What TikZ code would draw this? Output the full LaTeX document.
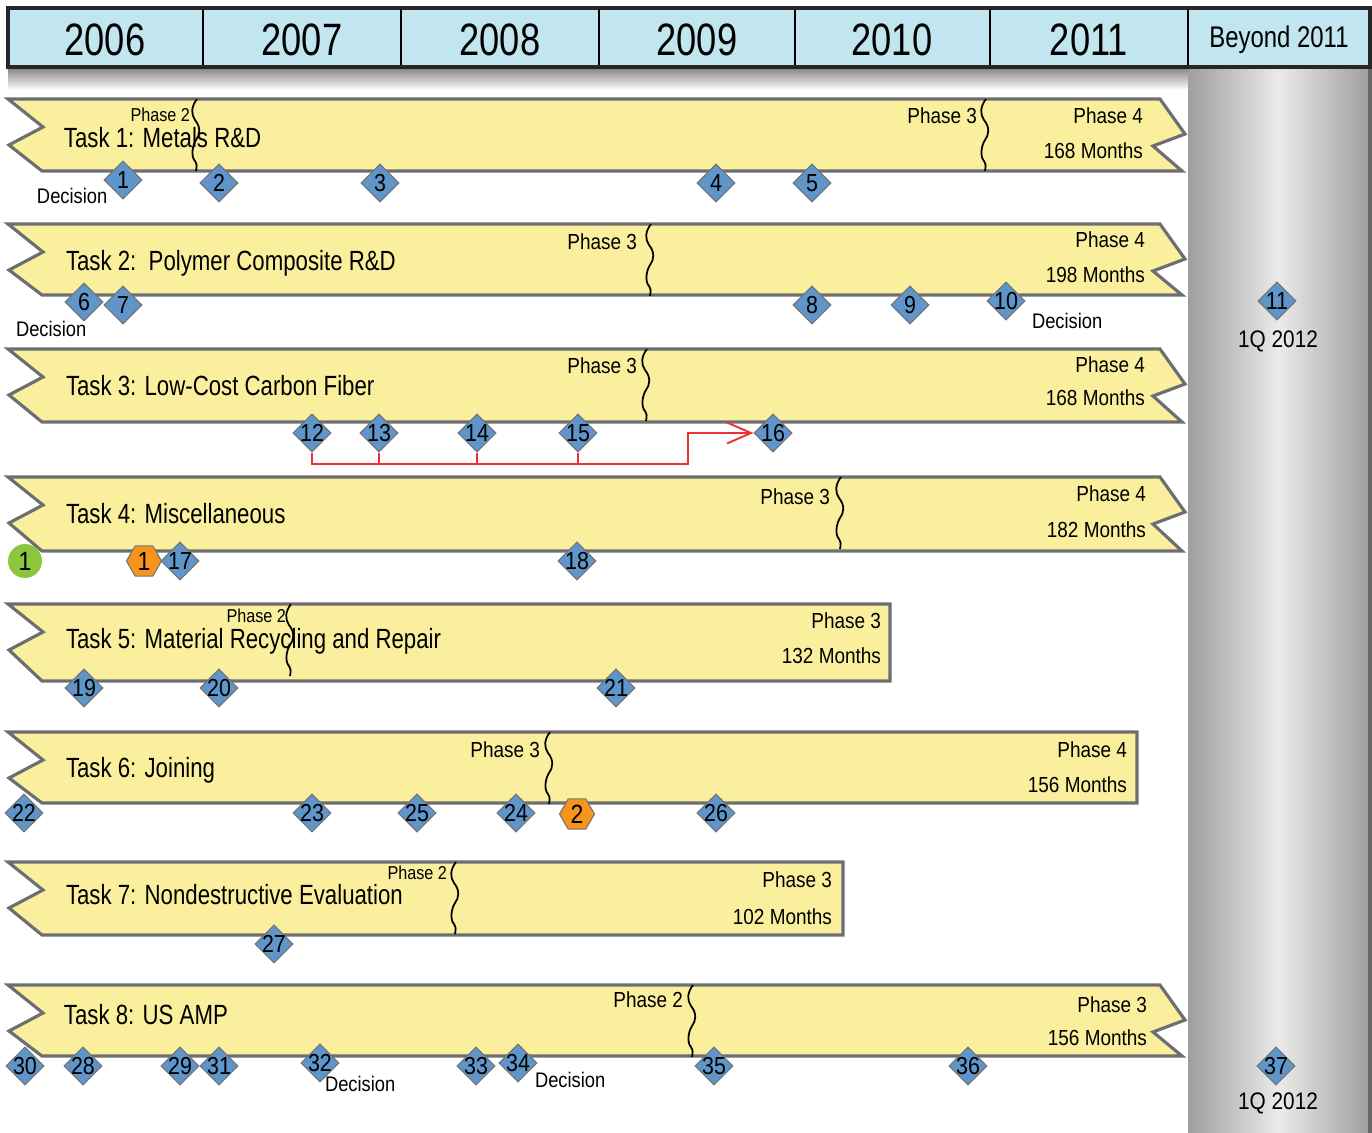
\documentclass[tikz,border=0pt]{standalone}
\usepackage{fontspec}
\setmainfont[FakeStretch=0.87]{Liberation Sans}
\newfontfamily\narrowfont[FakeStretch=0.8]{Liberation Sans}
\usepackage{tikz}
\usetikzlibrary{arrows.meta,shapes.geometric}

\definecolor{hdrblue}{HTML}{C2E6F0}
\definecolor{barfill}{HTML}{FAEF9C}
\definecolor{barline}{HTML}{6D6E71}
\definecolor{msblue}{HTML}{6095C9}
\definecolor{hexorange}{HTML}{F7941D}
\definecolor{okgreen}{HTML}{8CC63F}
\definecolor{linkred}{HTML}{EE3138}

\newcommand\fs[1]{\fontsize{#1}{#1}\selectfont}
% task ribbon with arrow end: top, bottom
\newcommand\flagbar[2]{%
  \draw[bar] (8,#1) -- (1160,#1) -- (1185,#1+35) -- (1153,#1+47) -- (1182,#2)
    -- (42,#2) -- (9,#1+46) -- (43,#1+28) -- cycle;}
% task ribbon with flat end: top, bottom, right x
\newcommand\flatbar[3]{%
  \draw[bar] (8,#1) -- (#3,#1) -- (#3,#2) -- (42,#2) -- (9,#1+46) -- (43,#1+28) -- cycle;}
% phase break: x, top
\newcommand\wave[2]{%
  \draw[wv] (#1+1,#2) .. controls (#1-5,#2+8) and (#1-5,#2+15) .. (#1-1,#2+21)
    .. controls (#1+5,#2+28) and (#1+4,#2+36) .. (#1,#2+41)
    .. controls (#1-4,#2+47) and (#1-5,#2+58) .. (#1-1,#2+62)
    .. controls (#1+1,#2+66) .. (#1,#2+72);}

\begin{document}
\begin{tikzpicture}[
  x=0.01cm, y=-0.01cm,
  hdr/.style={draw=black!85, line width=1pt, fill=hdrblue},
  yr/.style={font=\narrowfont\fs{12.9}},
  bar/.style={draw=barline, line width=0.9pt, fill=barfill, line join=miter},
  wv/.style={line width=0.5pt},
  txt/.style={inner sep=0pt, outer sep=0pt},
  ttl/.style={txt, anchor=base west, font=\narrowfont\fs{7.9}},
  ph/.style={txt, anchor=base east, font=\fs{6.2}},
  phs/.style={txt, anchor=base east, font=\fs{5.3}},
  note/.style={txt, anchor=base west, font=\fs{6}},
  ms/.style={diamond, draw=black!55, line width=0.3pt, fill=msblue,
             minimum width=0.38cm, minimum height=0.38cm, inner sep=0pt, font=\fs{7}},
  hx/.style={regular polygon, regular polygon sides=6, draw=black!55, line width=0.3pt,
             fill=hexorange, minimum size=0.35cm, inner sep=0pt, font=\fs{7.5}},
  ok/.style={circle, fill=okgreen, minimum size=0.34cm, inner sep=0pt, font=\fs{7.5}},
  link/.style={draw=linkred, line width=0.55pt},
]
\useasboundingbox (0,0) rectangle (1372,1133);

% beyond-2011 column and header
\shade[left color=black!38, right color=black!38, middle color=black!8] (1188,67) rectangle (1370,1133);
\draw[black!60, line width=1pt] (1370,67) -- (1370,1133);
\shade[top color=black!50, bottom color=white] (8,67) rectangle (1188,90);
\draw[hdr] (8,8) rectangle (1370,67);
\foreach \x in {203,401,599,795,990,1188}
  \draw[line width=0.8pt] (\x,9) -- (\x,65);
\foreach \yr/\x in {2006/105, 2007/302, 2008/500, 2009/697, 2010/892, 2011/1089}
  \node[yr] (y\yr) at (\x,40) {\yr};
\node[font=\narrowfont\fs{8.5}] (beyond) at (1279,40) {Beyond 2011};

% task ribbons
\flagbar{99}{171}
\flagbar{224}{295}
\flagbar{349}{422}
\flagbar{477}{551}
\flatbar{604}{681}{890}
\flatbar{732}{803}{1137}
\flatbar{862}{935}{843}
\flagbar{985}{1056}

\foreach \x/\t in {196/99, 985/99, 650/224, 646/349, 840/477, 290/604, 549/732, 455/862, 692/985}
  \wave{\x}{\t};

\node[ttl] (t1) at (64,147.5) {Task 1: Metals R\&D};
\node[ttl] (t2) at (66,270.5) {Task 2:\ \ Polymer Composite R\&D};
\node[ttl] (t3) at (66,395.5) {Task 3: Low-Cost Carbon Fiber};
\node[ttl] (t4) at (66,523.5) {Task 4: Miscellaneous};
\node[ttl] (t5) at (66,648.5) {Task 5: Material Recycling and Repair};
\node[ttl] (t6) at (66,777.5) {Task 6: Joining};
\node[ttl] (t7) at (66,904.5) {Task 7: Nondestructive Evaluation};
\node[ttl] (t8) at (64,1024.5) {Task 8: US AMP};

% phase labels
\node[phs] (p1a) at (190,121) {Phase 2};
\node[ph] (p1b) at (977,123) {Phase 3};
\node[ph] (p1c) at (1143,123) {Phase 4};
\node[ph] (p1d) at (1143,158) {168 Months};
\node[ph] (p2a) at (637,249) {Phase 3};
\node[ph] (p2b) at (1145,247) {Phase 4};
\node[ph] (p2c) at (1145,282) {198 Months};
\node[ph] (p3a) at (637,373) {Phase 3};
\node[ph] (p3b) at (1145,372) {Phase 4};
\node[ph] (p3c) at (1145,405) {168 Months};
\node[ph] (p4a) at (830,504) {Phase 3};
\node[ph] (p4b) at (1146,501) {Phase 4};
\node[ph] (p4c) at (1146,537) {182 Months};
\node[phs] (p5a) at (286,622) {Phase 2};
\node[ph] (p5b) at (881,628) {Phase 3};
\node[ph] (p5c) at (881,663) {132 Months};
\node[ph] (p6a) at (540,757) {Phase 3};
\node[ph] (p6b) at (1127,757) {Phase 4};
\node[ph] (p6c) at (1127,792) {156 Months};
\node[phs] (p7a) at (447,879) {Phase 2};
\node[ph] (p7b) at (832,887) {Phase 3};
\node[ph] (p7c) at (832,924) {102 Months};
\node[ph] (p8a) at (683,1007) {Phase 2};
\node[ph] (p8b) at (1147,1012) {Phase 3};
\node[ph] (p8c) at (1147,1045) {156 Months};

% milestones
\node[hx] (h1) at (144,561) {1};
\node[hx] (h2) at (577,814) {2};
\node[ok] (g1) at (25,561) {1};
\foreach \n/\x/\y in {1/123/180, 2/219/183, 3/380/183, 4/716/183, 5/812/183,
    6/84/302, 7/123/305, 8/812/305, 9/910/305, 10/1006/301, 11/1277/301,
    12/312/433, 13/379/433, 14/477/433, 15/578/433, 16/773/433,
    17/180/561, 18/577/561, 19/84/688, 20/219/688, 21/616/688,
    22/24/813, 23/312/813, 25/417/813, 24/516/813, 26/716/813, 27/274/944,
    30/25/1066, 28/83/1066, 29/180/1066, 31/219/1066, 32/320/1063,
    33/476/1066, 34/518/1063, 35/714/1066, 36/968/1066, 37/1276/1066}
  \node[ms] (m\n) at (\x,\y) {\makebox[0pt]{\n}};

\node[note] (d1) at (37,203) {Decision};
\node[note] (d2) at (16,336) {Decision};
\node[note] (d3) at (1032,328) {Decision};
\node[note] (d4) at (325,1091) {Decision};
\node[note] (d5) at (535,1087) {Decision};
\node[txt, font=\fs{6.8}, anchor=base] (q1) at (1278,347) {1Q 2012};
\node[txt, font=\fs{6.8}, anchor=base] (q2) at (1278,1109) {1Q 2012};

% carbon fiber links
\coordinate (bend) at (688,464);
\draw[link, -{Straight Barb[length=2.4mm, width=2.1mm]}] (m12.south) |- (bend) |- (m16.west);
\foreach \m in {13,14,15}
  \draw[link] (m\m.south) -- (m\m.south |- bend);
\end{tikzpicture}
\end{document}
